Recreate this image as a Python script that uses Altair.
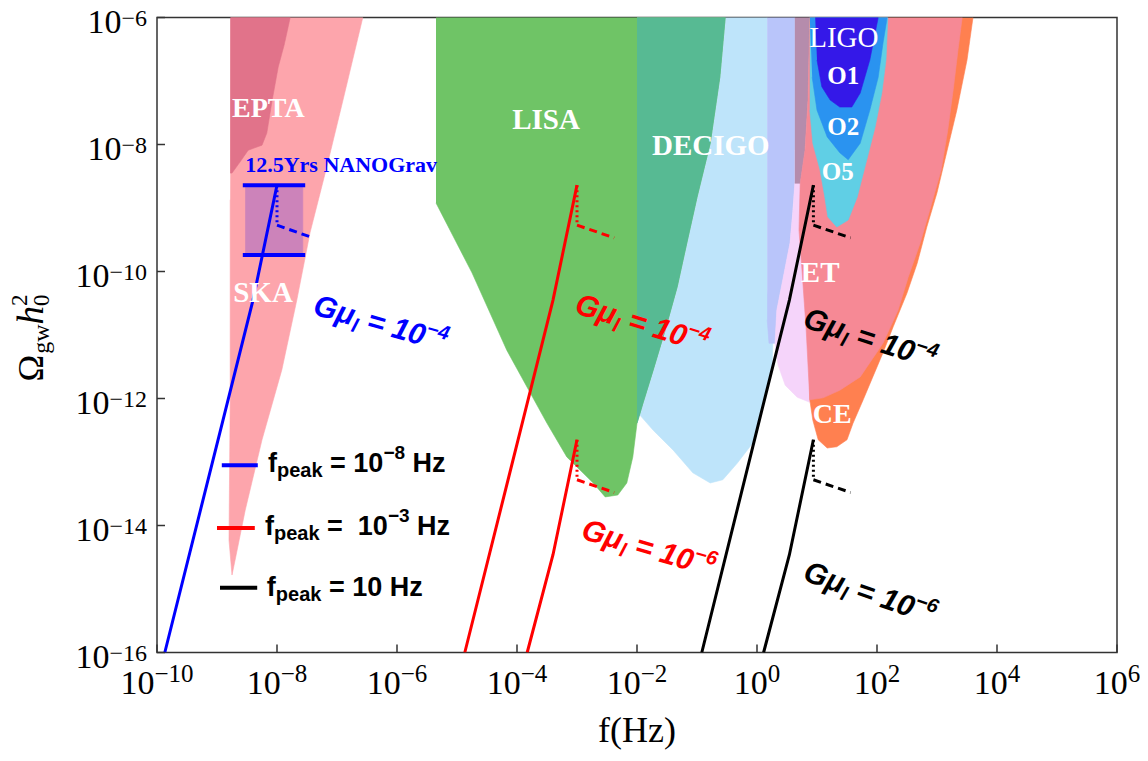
import math
import altair as alt
import pandas as pd

# ---------------- data: log10 f [Hz] and log10 Omega_gw h^2 ----------------
ska_lf = [-8.77, -6.57, -6.90, -7.17, -7.45, -7.67, -7.92, -8.25, -8.53, -8.68, -8.75, -8.80, -8.78, -8.78]
ska_lo = [-6.00, -6.00, -7.30, -8.35, -9.39, -10.45, -11.55, -12.65, -13.76, -14.46, -14.78, -14.23, -12.02, -8.87]
epta_lf = [-8.78, -7.78, -7.88, -7.98, -8.08, -8.17, -8.25, -8.48, -8.62, -8.75, -8.78]
epta_lo = [-6.00, -6.00, -6.43, -6.78, -7.30, -7.82, -8.01, -8.09, -8.28, -8.45, -8.45]
nano_lf = [-8.53, -7.57, -7.57, -8.53]
nano_lo = [-8.64, -8.64, -9.74, -9.74]
decigo_lf = [-2.00, 0.17, 0.17, 0.27, 0.25, 0.13, -0.07, -0.33, -0.57, -0.78, -1.07, -1.40, -1.73, -2.00]
decigo_lo = [-6.00, -6.00, -10.29, -10.92, -11.55, -12.02, -12.70, -13.02, -13.28, -13.33, -13.17, -12.81, -12.50, -12.21]
lisa_lf = [-5.35, -0.53, -0.62, -0.78, -1.00, -1.17, -1.33, -1.53, -1.73, -1.90, -2.00, -2.07, -2.17, -2.32,
           -2.53, -2.73, -3.17, -3.50, -3.78, -4.17, -4.75, -5.35]
lisa_lo = [-6.00, -6.00, -6.94, -7.98, -8.83, -9.55, -10.24, -10.92, -11.55, -12.07, -12.39, -12.92, -13.33, -13.52,
           -13.55, -13.33, -12.92, -12.39, -11.91, -11.24, -10.02, -8.92]
overlap_lf = [-2.00, -0.53, -0.62, -0.78, -1.00, -1.17, -1.33, -1.53, -1.73, -1.90, -2.00]
overlap_lo = [-6.00, -6.00, -6.94, -7.98, -8.83, -9.55, -10.24, -10.92, -11.55, -12.07, -12.39]
lav_lf = [0.17, 0.63, 0.63, 0.55, 0.43, 0.33, 0.30, 0.20, 0.17]
lav_lo = [-6.00, -6.00, -8.61, -9.55, -10.13, -10.61, -11.13, -11.13, -10.76]
violet_lf = [0.63, 1.22, 1.22, 0.88, 0.67, 0.47, 0.35, 0.30, 0.33, 0.43, 0.55, 0.60, 0.63]
violet_lo = [-8.09, -8.09, -12.06, -12.06, -11.98, -11.79, -11.47, -11.13, -10.61, -10.13, -9.55, -9.03, -8.61]
mauve_lf = [0.63, 0.88, 0.85, 0.80, 0.72, 0.63]
mauve_lo = [-6.00, -6.00, -7.30, -8.09, -8.61, -8.61]
ce_lf = [3.60, 3.50, 3.33, 3.17, 3.00, 2.83, 2.67, 2.50, 2.27, 2.10, 1.93, 1.77, 1.60, 1.50, 1.33, 1.17, 1.02,
         0.93, 0.88, 0.88]
ce_lo = [-6.00, -6.67, -7.46, -8.09, -8.76, -9.30, -9.87, -10.34, -10.87, -11.28, -11.66, -12.02, -12.39, -12.65,
         -12.76, -12.78, -12.65, -12.34, -12.02, -6.00]
et_lf = [0.88, 0.85, 0.80, 0.72, 0.70, 0.75, 0.82, 0.88, 1.10, 1.38, 1.72, 2.10, 2.35, 2.52, 2.72, 2.88, 3.07,
         3.18, 3.27, 3.35, 3.42]
et_lo = [-6.00, -7.30, -8.09, -8.61, -9.35, -9.98, -10.92, -12.02, -11.99, -11.87, -11.66, -11.13, -10.61, -10.09,
         -9.55, -9.03, -8.40, -7.77, -7.14, -6.51, -6.00]
o5_lf = [0.88, 2.18, 2.15, 2.08, 1.97, 1.83, 1.67, 1.52, 1.33, 1.18, 1.13, 1.05, 0.93, 0.88]
o5_lo = [-6.00, -6.00, -6.67, -7.19, -7.72, -8.24, -8.83, -9.19, -9.30, -9.14, -8.83, -8.40, -7.98, -7.46]
o2_lf = [0.88, 2.17, 2.10, 2.02, 1.88, 1.72, 1.52, 1.38, 1.17, 1.00, 0.92]
o2_lo = [-6.00, -6.00, -6.40, -6.94, -7.46, -7.98, -8.24, -8.13, -7.88, -7.46, -6.94]
o1_lf = [0.97, 2.02, 1.88, 1.72, 1.58, 1.38, 1.22, 1.08, 1.00]
o1_lo = [-6.00, -6.00, -6.67, -7.19, -7.41, -7.41, -7.30, -7.09, -6.67]

# cosmic-string spectra (solid), their dotted drop and dashed tail
blue4_lf = [-9.87, -8.90, -8.40, -8.00]
blue4_lo = [-16.00, -12.34, -10.45, -8.64]
red4_lf = [-4.87, -3.90, -3.40, -3.00]
red4_lo = [-16.00, -12.34, -10.45, -8.64]
red6_lf = [-3.83, -3.40, -3.00]
red6_lo = [-16.00, -14.46, -12.65]
black4_lf = [-0.92, 0.04, 0.54, 0.94]
black4_lo = [-16.00, -12.34, -10.45, -8.64]
black6_lf = [0.11, 0.54, 0.94]
black6_lo = [-16.00, -14.46, -12.65]
peak_lf = [-8.00, -3.00, 0.94, -3.00, 0.94]
peak_lo = [-8.64, -8.64, -8.64, -12.65, -12.65]
drop_lo = [-9.27, -9.27, -9.27, -13.28, -13.28]
tail_lf = [-7.40, -2.38, 1.56, -2.38, 1.56]
tail_lo = [-9.47, -9.47, -9.47, -13.48, -13.48]
nanobar_lf = [-8.57, -7.53]
nanobar_lo = [-8.64, -9.74]

# labels
det_text = ["EPTA", "SKA", "LISA", "DECIGO", "O1", "O2", "O5", "ET", "CE"]
det_lf = [-8.75, -8.73, -4.08, -1.75, 1.17, 1.17, 1.08, 0.73, 0.93]
det_lo = [-7.57, -10.48, -7.76, -8.17, -7.05, -7.85, -8.56, -10.17, -12.39]
ligo_text, ligo_lf, ligo_lo = "LIGO", 0.87, -6.46
nano_text, nano_text_lf, nano_text_lo = "12.5Yrs NANOGrav", -8.53, -8.43
gmu_lf = [-7.42, -3.06, 0.745, -2.95, 0.745]
gmu_lo = [-10.67, -10.65, -10.87, -14.20, -14.86]
gmu_exp = ["−4", "−4", "−4", "−6", "−6"]
legend_exp = ["−8", "−3", None]
legend_lf = [-8.15, -8.20, -8.17]
legend_lo = [-13.16, -14.15, -15.11]
legend_line_lf = [(-8.92, -8.32), (-9.00, -8.37), (-8.95, -8.33)]
legend_line_lo = [-13.05, -14.04, -14.98]
x_ticks = [-10, -8, -6, -4, -2, 0, 2, 4, 6]
y_ticks = [-16, -14, -12, -10, -8, -6]

BLUE, RED, BLACK = "#0000FF", "#FF0000", "#000000"

# ---------------- layout ----------------
W, H = 960, 635
LF_MIN, LF_MAX = -10, 6
LO_MIN, LO_MAX = -16, -6
PXX = W / (LF_MAX - LF_MIN)
PXY = H / (LO_MAX - LO_MIN)

xs = alt.Scale(type="log", domain=[10.0 ** LF_MIN, 10.0 ** LF_MAX], nice=False)
ys = alt.Scale(type="log", domain=[10.0 ** LO_MIN, 10.0 ** LO_MAX], nice=False)
X = alt.X("f:Q", scale=xs, axis=None)
Y = alt.Y("o:Q", scale=ys, axis=None)

# ---------------- polygons ----------------
polys = [
    ("SKA", ska_lf, ska_lo, "#FDA5AC"),
    ("EPTA", epta_lf, epta_lo, "#E1738A"),
    ("NANO", nano_lf, nano_lo, "#CC83BA"),
    ("DECIGO", decigo_lf, decigo_lo, "#BEE4FA"),
    ("LISA", lisa_lf, lisa_lo, "#6FC466"),
    ("OVER", overlap_lf, overlap_lo, "#57BA93"),
    ("LAV", lav_lf, lav_lo, "#B9C5FA"),
    ("VIOLET", violet_lf, violet_lo, "#F5D4FA"),
    ("MAUVE", mauve_lf, mauve_lo, "#B58CAC"),
    ("CE", ce_lf, ce_lo, "#FF8050"),
    ("ET", et_lf, et_lo, "#F68995"),
    ("O5", o5_lf, o5_lo, "#60CFE5"),
    ("O2", o2_lf, o2_lo, "#2A93F0"),
    ("O1", o1_lf, o1_lo, "#3418E8"),
]
prow = []
for name, lfs, los, col in polys:
    for i, (a, b) in enumerate(zip(lfs, los)):
        prow.append(dict(poly=name, i=i, f=10 ** a, o=10 ** b))
pdf = pd.DataFrame(prow)

layers = []
for name, lfs, los, col in polys:
    layers.append(
        alt.Chart(pdf).transform_filter(alt.datum.poly == name)
        .mark_line(fill=col, stroke=col, strokeWidth=0.6, clip=True)
        .encode(x=X, y=Y, order=alt.Order("i:Q"))
    )

# ---------------- lines ----------------
lrows = []
def add_line(seg, lfs, los, color, style, w):
    for i, (a, b) in enumerate(zip(lfs, los)):
        lrows.append(dict(seg=seg, i=i, f=10 ** a, o=10 ** b, color=color, style=style, w=w))

add_line("b4", blue4_lf, blue4_lo, BLUE, "solid", 3)
add_line("r4", red4_lf, red4_lo, RED, "solid", 3)
add_line("r6", red6_lf, red6_lo, RED, "solid", 3)
add_line("k4", black4_lf, black4_lo, BLACK, "solid", 3)
add_line("k6", black6_lf, black6_lo, BLACK, "solid", 3)
for j, c in enumerate([BLUE, RED, BLACK, RED, BLACK]):
    add_line(f"dot{j}", [peak_lf[j], peak_lf[j]], [peak_lo[j], drop_lo[j]], c, "dot", 3)
    add_line(f"dash{j}", [peak_lf[j], tail_lf[j]], [drop_lo[j], tail_lo[j]], c, "dash", 3)
for j, v in enumerate(nanobar_lo):
    add_line(f"nb{j}", nanobar_lf, [v, v], BLUE, "solid", 4)
for j, c in enumerate([BLUE, RED, BLACK]):
    add_line(f"lg{j}", list(legend_line_lf[j]), [legend_line_lo[j]] * 2, c, "solid", 4)
ldf = pd.DataFrame(lrows)

dash_map = {"solid": None, "dot": [2, 3], "dash": [8, 5]}
for style, dash in dash_map.items():
    kw = dict(clip=True)
    if dash:
        kw["strokeDash"] = dash
    layers.append(
        alt.Chart(ldf).transform_filter(alt.datum.style == style)
        .mark_line(**kw)
        .encode(x=X, y=Y, detail="seg:N", order=alt.Order("i:Q"),
                color=alt.Color("color:N", scale=None),
                strokeWidth=alt.StrokeWidth("w:Q", scale=None))
    )

# ---------------- text ----------------
SERIF_W = {c: 0.5 for c in "0123456789"}
SERIF_W.update({"−": 0.564, "Ω": 0.768, "g": 0.5, "w": 0.722, "h": 0.5, "f": 0.333, "(": 0.333,
                ")": 0.333, "H": 0.722, "z": 0.444, " ": 0.25})
SANS_W = {c: 0.556 for c in "0123456789"}
SANS_W.update({"G": 0.778, "μ": 0.611, "l": 0.278, " ": 0.278, "=": 0.584, "−": 0.584, "f": 0.333,
               "p": 0.611, "e": 0.556, "a": 0.556, "k": 0.556, "H": 0.722, "z": 0.5})
NBSP = "\u00a0"


def tw(s, size, fam):
    table = SANS_W if fam.startswith("sans") else SERIF_W
    return size * sum(table.get(c, 0.55) for c in s)


trows = []


def compose(lf0, lo0, angle, pieces, color):
    th = math.radians(angle)
    adv = 0.0
    for p in pieces:
        txt, size, shift, fam = p[:4]
        advance = p[4] if len(p) > 4 else True
        lead = txt[: len(txt) - len(txt.lstrip(" "))]
        a = adv + tw(lead, size, fam)
        dx = a * math.cos(th) - shift * math.sin(th)
        dy = a * math.sin(th) + shift * math.cos(th)
        trows.append(dict(f=10 ** (lf0 + dx / PXX), o=10 ** (lo0 - dy / PXY),
                          text=txt.strip(" ").replace(" ", NBSP),
                          size=size, angle=angle % 360, color=color, fam=fam))
        if advance:
            adv += tw(txt, size, fam)


det_size = {"O1": 25, "O2": 25, "O5": 25, "EPTA": 28, "CE": 28}
for t, a, b in zip(det_text, det_lf, det_lo):
    compose(a, b, 0, [(t, det_size.get(t, 29), 0, "serif_b")], "#FFFFFF")
compose(ligo_lf, ligo_lo, 0, [(ligo_text, 29, 0, "serif")], "#FFFFFF")
compose(nano_text_lf, nano_text_lo, 0, [(nano_text, 22, 0, "serif_b")], BLUE)

gmu_col = [BLUE, RED, BLACK, RED, BLACK]
gmu_ang = [16, 17, 18, 16.5, 19]
for a, b, e, c, ang in zip(gmu_lf, gmu_lo, gmu_exp, gmu_col, gmu_ang):
    compose(a, b, ang, [("Gμ", 30, 0, "sans_bi"), ("l", 20, 6, "sans_bi"), (" = 10", 30, 0, "sans_bi"),
                        (e, 20, -12, "sans_bi")], c)

for e, a, b in zip(legend_exp, legend_lf, legend_lo):
    if e is None:
        pcs = [("f", 27, 0, "sans_b"), ("peak", 20, 5, "sans_b"), (" = 10 Hz", 27, 0, "sans_b")]
    else:
        eq = " =  10" if e == "−3" else " = 10"
        pcs = [("f", 27, 0, "sans_b"), ("peak", 20, 5, "sans_b"), (eq, 27, 0, "sans_b"),
               (e, 19, -13, "sans_b"), (" Hz", 27, 0, "sans_b")]
    compose(a, b, 0, pcs, BLACK)


def exp_str(k):
    return ("−" + str(-k)) if k < 0 else str(k)


for k in x_ticks:
    e = exp_str(k)
    total = tw("10", 34, "serif") + tw(e, 25, "serif")
    compose(k - total / 2 / PXX, LO_MIN - 41.5 / PXY, 0, [("10", 34, 0, "serif"), (e, 25, -12, "serif")], BLACK)
for k in y_ticks:
    e = exp_str(k)
    total = tw("10", 34, "serif") + tw(e, 24, "serif")
    compose(LF_MIN - (10 + total) / PXX, k - 15 / PXY, 0, [("10", 34, 0, "serif"), (e, 24, -7, "serif")], BLACK)

# axis titles
compose(LF_MIN - 114 / PXX, LO_MAX - 364 / PXY, 270,
        [("Ω", 36, 0, "serif"), ("gw", 24, 6, "serif"), ("h", 37, 0, "serif_i"),
         ("0", 23, 6, "serif", False), ("2", 23, -16, "serif")], BLACK)
xt = "f(Hz)"
compose((LF_MIN + LF_MAX) / 2 - tw(xt, 36, "serif") / 2 / PXX, LO_MIN - 89.5 / PXY, 0,
        [(xt, 36, 0, "serif")], BLACK)

tdf = pd.DataFrame(trows)
FAMS = {
    "serif": dict(font="Liberation Serif"),
    "serif_b": dict(font="Liberation Serif", fontWeight="bold"),
    "serif_i": dict(font="Liberation Serif", fontStyle="italic"),
    "sans_b": dict(font="Liberation Sans", fontWeight="bold"),
    "sans_bi": dict(font="Liberation Sans", fontWeight="bold", fontStyle="italic"),
}
for fam, kw in FAMS.items():
    layers.append(
        alt.Chart(tdf).transform_filter(alt.datum.fam == fam)
        .mark_text(align="left", baseline="alphabetic", **kw)
        .encode(x=X, y=Y, text="text:N",
                size=alt.Size("size:Q", scale=None),
                angle=alt.Angle("angle:Q", scale=None),
                color=alt.Color("color:N", scale=None))
    )

# ---------------- inward ticks ----------------
xtdf = pd.DataFrame({"f": [10.0 ** k for k in x_ticks]})
ytdf = pd.DataFrame({"o": [10.0 ** k for k in y_ticks]})
layers.append(alt.Chart(xtdf).mark_rule(color="#333333", strokeWidth=1.5)
              .encode(x=X, y=alt.value(H), y2=alt.value(H - 8)))
layers.append(alt.Chart(ytdf).mark_rule(color="#333333", strokeWidth=1.5)
              .encode(y=Y, x=alt.value(0), x2=alt.value(8)))

chart = (
    alt.layer(*layers)
    .properties(width=W, height=H,
                padding={"left": 149, "top": 9.5, "right": 23, "bottom": 99},
                autosize=alt.AutoSizeParams(type="none"), background="white")
    .configure_view(stroke="#333333", strokeWidth=1.5)
)
chart.save("out.html", embed_options={"renderer": "svg", "actions": False})
